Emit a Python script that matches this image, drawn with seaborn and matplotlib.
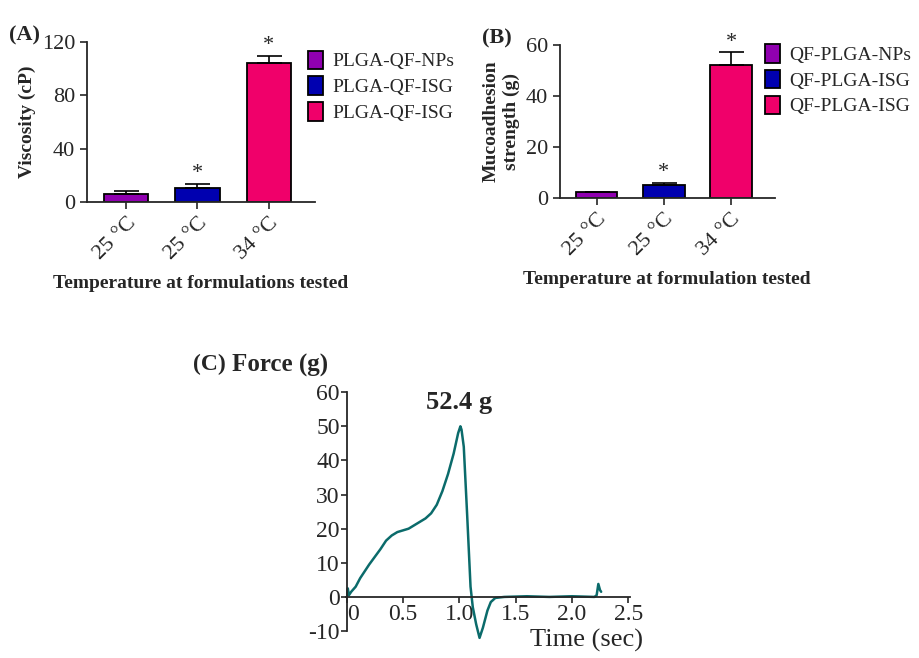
import matplotlib
matplotlib.use("Agg")
import matplotlib.pyplot as plt
import seaborn as sns
import pandas as pd
from matplotlib.patches import Patch

# ---- data ----
temps = ["25 °C", "25 °C", "34 °C"]

visc_groups = ["PLGA-QF-NPs", "PLGA-QF-ISG", "PLGA-QF-ISG"]
visc_mean = [6.0, 10.5, 104.0]
visc_err = [2.5, 3.0, 5.5]
visc_star = [False, True, True]

muco_groups = ["QF-PLGA-NPs", "QF-PLGA-ISG", "QF-PLGA-ISG"]
muco_mean = [2.2, 5.3, 52.0]
muco_err = [0.3, 0.7, 5.0]
muco_star = [False, True, True]

bar_colors = ["#9000b0", "#0000b0", "#f0006a"]

# force-time trace
time_s = [0.0, 0.01, 0.02, 0.04, 0.08, 0.12, 0.2, 0.3, 0.35, 0.4, 0.45, 0.5, 0.55,
          0.6, 0.7, 0.75, 0.8, 0.85, 0.9, 0.95, 0.99, 1.01, 1.02, 1.04, 1.07, 1.1,
          1.12, 1.15, 1.18, 1.21, 1.25, 1.28, 1.32, 1.4, 1.6, 1.8, 2.0, 2.2, 2.22,
          2.235, 2.25, 2.26]
force_g = [0.0, 2.5, 0.5, 1.5, 3.0, 5.5, 9.5, 14.0, 16.5, 18.0, 19.0, 19.5, 20.0,
           21.0, 23.0, 24.5, 27.0, 31.0, 36.0, 42.0, 48.0, 50.0, 49.0, 44.0, 24.0,
           3.0, -3.0, -8.0, -12.0, -9.0, -4.0, -1.5, -0.3, 0.0, 0.2, 0.0, 0.2, 0.0,
           0.5, 3.8, 2.0, 1.5]
peak_label = "52.4 g"

sns.set_theme(style="ticks")
plt.rcParams["font.family"] = ["Liberation Serif", "DejaVu Serif"]
plt.rcParams["axes.linewidth"] = 1.3
plt.rcParams["axes.unicode_minus"] = False

fig = plt.figure(figsize=(9.19, 6.58), dpi=100)


def bar_panel(rect, means, errs, stars, groups, ymax, yticks, ylabel, xlabel, tag, leg_xy):
    ax = fig.add_axes(rect)
    df = pd.DataFrame({"pos": ["0", "1", "2"], "val": means})
    sns.barplot(data=df, x="pos", y="val", hue="pos", palette=bar_colors, saturation=1,
                width=0.62, edgecolor="black", linewidth=1.3, legend=False, ax=ax)
    # upper-only error bars
    ax.errorbar([0, 1, 2], means, yerr=[[0, 0, 0], errs], fmt="none",
                ecolor="black", elinewidth=1.2, capsize=9, capthick=1.2)
    for i, s in enumerate(stars):
        if s:
            ax.text(i, means[i] + errs[i] + ymax * 0.005, "*", ha="center", va="bottom",
                    fontsize=16)
    ax.set_xlim(-0.55, 2.65)
    ax.set_ylim(0, ymax)
    ax.set_yticks(yticks)
    ax.set_xticks([0, 1, 2])
    ax.set_xticklabels(temps, rotation=45, ha="right", rotation_mode="anchor", fontsize=16)
    ax.tick_params(axis="y", labelsize=16, width=1.2, length=5)
    ax.tick_params(axis="x", width=1.2, length=5)
    ax.set_ylabel(ylabel, fontsize=14, fontweight="bold", labelpad=4)
    ax.set_xlabel(xlabel, fontsize=14, fontweight="bold", labelpad=8)
    sns.despine(ax=ax)
    handles = [Patch(facecolor=c, edgecolor="black", linewidth=1.3) for c in bar_colors]
    fig.legend(handles, groups, loc="upper left", bbox_to_anchor=leg_xy, frameon=False,
               fontsize=14, handlelength=0.75, handleheight=1.1, handletextpad=0.5,
               labelspacing=0.3, borderaxespad=0)
    fig.text(rect[0] - 0.085, rect[1] + rect[3] + 0.01, tag, fontsize=16,
             fontweight="bold", va="center")
    return ax


bar_panel([0.0947, 0.693, 0.248, 0.243], visc_mean, visc_err, visc_star, visc_groups,
          120, [0, 40, 80, 120], "Viscosity (cP)", "Temperature at formulations tested",
          "(A)", (0.327, 0.935))
bar_panel([0.609, 0.699, 0.234, 0.233], muco_mean, muco_err, muco_star, muco_groups,
          60, [0, 20, 40, 60], "Mucoadhesion\nstrength (g)",
          "Temperature at formulation tested", "(B)", (0.824, 0.945))

# ---- panel C ----
axc = fig.add_axes([0.376, 0.028, 0.31, 0.376])
trace = pd.DataFrame({"t": time_s, "f": force_g})
sns.lineplot(data=trace, x="t", y="f", color="#0b6b6b", linewidth=1.8, ax=axc)
axc.set_xlim(-0.01, 2.52)
axc.set_ylim(-12.5, 60)
axc.set_yticks(range(-10, 61, 10))
axc.set_xticks([0, 0.5, 1.0, 1.5, 2.0, 2.5])
axc.set_xticklabels(["0", "0.5", "1.0", "1.5", "2.0", "2.5"])
axc.spines["bottom"].set_position(("data", 0))
axc.spines["left"].set_position(("data", 0))
axc.spines["left"].set_bounds(-10, 60)
axc.spines["top"].set_visible(False)
axc.spines["right"].set_visible(False)
axc.tick_params(labelsize=17, width=1.2, length=4, pad=1)
axc.get_xticklabels()[0].set_horizontalalignment("left")
axc.set_xlabel("")
axc.set_ylabel("")
axc.text(1.0, 53.5, peak_label, ha="center", va="bottom", fontsize=19, fontweight="bold")
fig.text(0.21, 0.446, "(C)", fontsize=17, fontweight="bold", va="center")
fig.text(0.252, 0.444, "Force (g)", fontsize=18, fontweight="bold", va="center")
fig.text(0.577, 0.026, "Time (sec)", fontsize=19, va="center")

fig.savefig("out.png", dpi=100)
